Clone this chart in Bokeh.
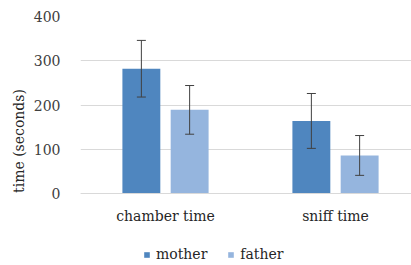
from bokeh.plotting import figure
from bokeh.models import ColumnDataSource, Range1d, FixedTicker, Whisker, TeeHead, Legend, LegendItem
from bokeh.embed import file_html
from bokeh.resources import INLINE

categories = ["chamber time", "sniff time"]
series = ["mother", "father"]
mother = [282, 164]
father = [189, 86]
mother_err = [64, 62]
father_err = [55, 45]
y_ticks = [0, 100, 200, 300, 400]
colors = ["#4F86BF", "#95B5DE"]

FONT = "DejaVu Serif"

# frame spans from the top gridline area to the bottom of the window;
# 400 units of value take 177 px, the rest below 0 holds labels and legend
FRAME_H = 249
Y_MIN = 400 - FRAME_H * 400 / 177

p = figure(output_backend="svg", toolbar_location=None,
           frame_width=331, frame_height=FRAME_H,
           x_range=Range1d(0, 331 / 170), y_range=Range1d(Y_MIN, 400),
           min_border_left=80, min_border_right=0, min_border_top=16,
           min_border_bottom=0)
p.outline_line_color = None
p.background_fill_color = "white"
p.border_fill_color = "white"

offsets = [-0.142, 0.142]
width = 0.223
renderers = []
for k, (vals, errs) in enumerate([(mother, mother_err), (father, father_err)]):
    xs = [i + 0.5 + offsets[k] for i in range(len(categories))]
    src = ColumnDataSource(dict(x=xs, top=vals, bottom=[0] * len(vals),
                                upper=[v + e for v, e in zip(vals, errs)],
                                lower=[v - e for v, e in zip(vals, errs)]))
    r = p.vbar(x="x", top="top", bottom="bottom", width=width, source=src,
               fill_color=colors[k], line_color=None)
    renderers.append(r)
    w = Whisker(base="x", upper="upper", lower="lower", source=src,
                level="overlay",
                line_color="#404040", line_width=1,
                upper_head=TeeHead(size=9, line_color="#404040", line_width=1),
                lower_head=TeeHead(size=9, line_color="#404040", line_width=1))
    p.add_layout(w)

# axes
p.yaxis.ticker = FixedTicker(ticks=y_ticks)
p.yaxis.axis_line_color = None
p.yaxis.major_tick_line_color = None
p.yaxis.minor_tick_line_color = None
p.yaxis.major_label_text_font = FONT
p.yaxis.major_label_text_font_size = "14px"
p.yaxis.major_label_text_color = "#404040"
p.yaxis.major_label_standoff = 14
p.yaxis.axis_label = "time (seconds)"
p.yaxis.axis_label_text_font = FONT
p.yaxis.axis_label_text_font_size = "14px"
p.yaxis.axis_label_text_font_style = "normal"
p.yaxis.axis_label_text_color = "#262626"
p.yaxis.axis_label_standoff = 4
p.yaxis.axis_label_text_align = "center"

p.xaxis.fixed_location = 0
p.xaxis.ticker = FixedTicker(ticks=[i + 0.5 for i in range(len(categories))])
p.xaxis.major_label_overrides = {i + 0.5: c for i, c in enumerate(categories)}
p.xaxis.axis_line_color = "#D9D9D9"
p.xaxis.major_tick_line_color = None
p.xaxis.minor_tick_line_color = None
p.xaxis.major_label_text_font = FONT
p.xaxis.major_label_text_font_size = "14px"
p.xaxis.major_label_text_color = "#262626"
p.xaxis.major_label_standoff = 8

p.xgrid.grid_line_color = None
p.ygrid.ticker = FixedTicker(ticks=y_ticks)
p.ygrid.grid_line_color = "#D9D9D9"

legend = Legend(items=[LegendItem(label=s, renderers=[r]) for s, r in zip(series, renderers)],
                orientation="horizontal", location=(63, 3),
                label_text_font=FONT, label_text_font_size="14px",
                label_text_color="#262626", label_height=14,
                glyph_width=7, glyph_height=7, label_standoff=6, spacing=20,
                border_line_color=None, background_fill_alpha=0,
                padding=2, margin=0)
p.add_layout(legend, "center")

open("out.html", "w").write(file_html(p, INLINE))
